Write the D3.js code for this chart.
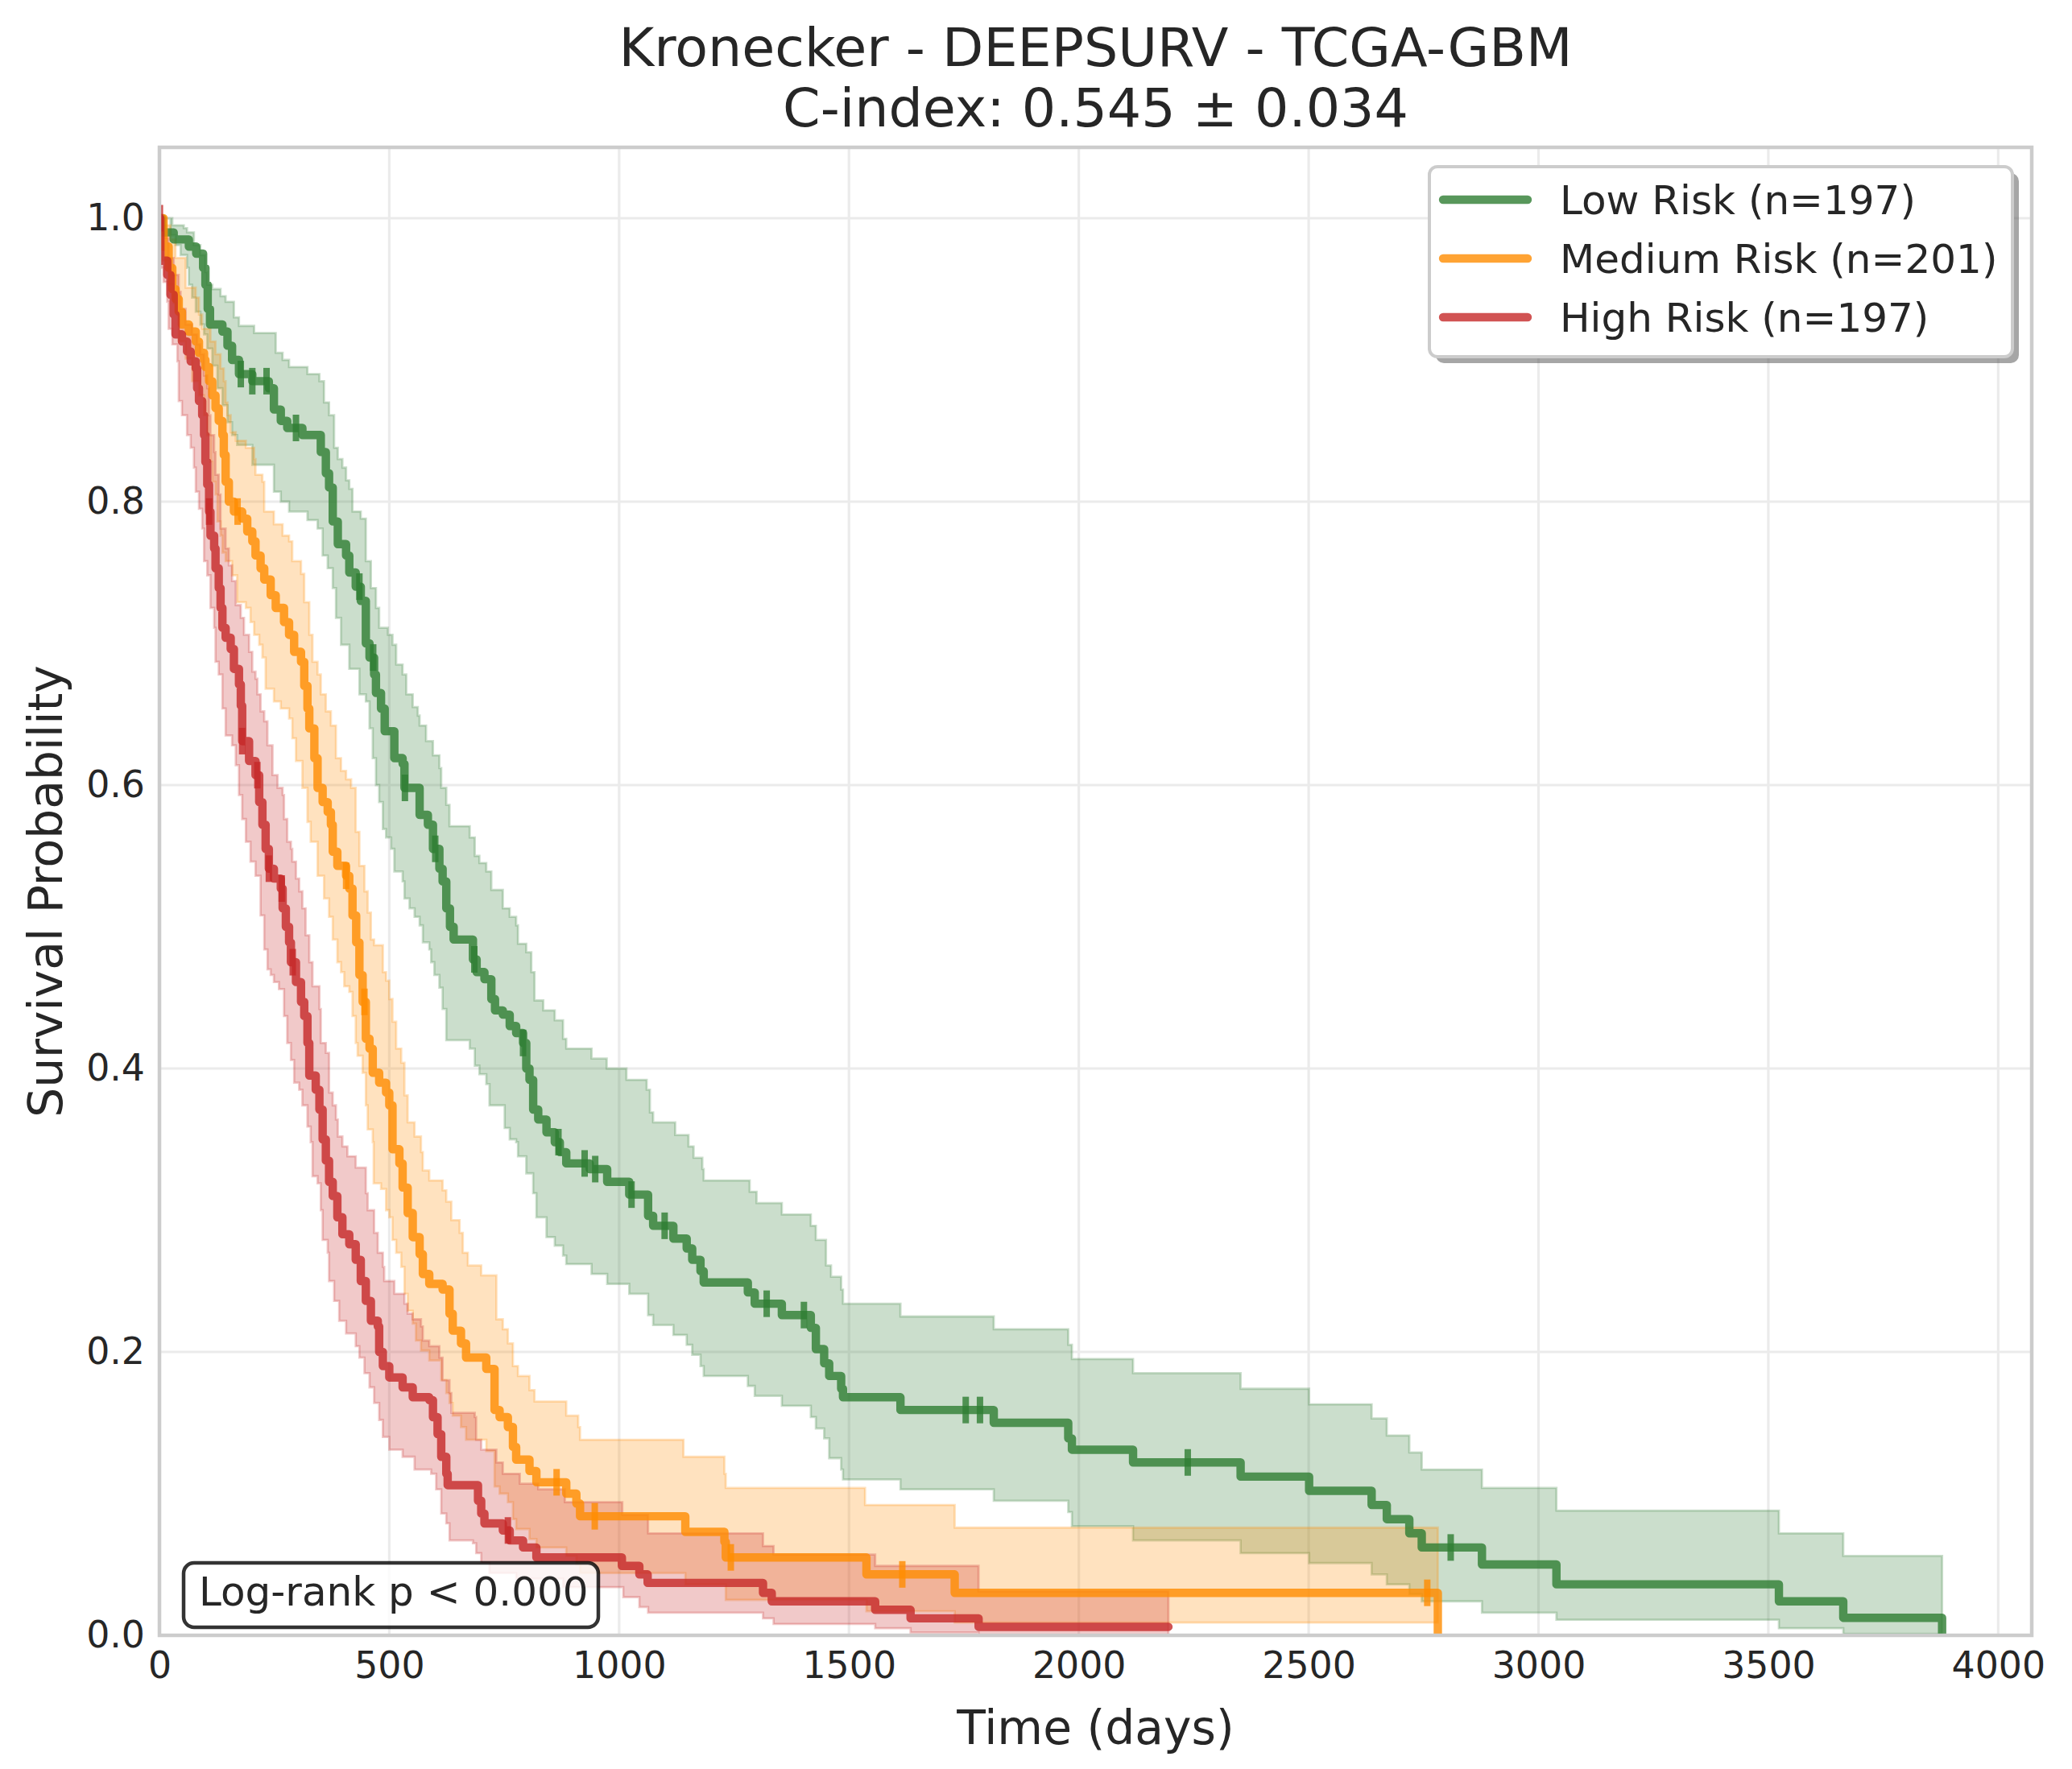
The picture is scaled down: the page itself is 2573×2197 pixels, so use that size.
<!DOCTYPE html>
<html>
<head>
<meta charset="utf-8">
<script src="https://cdn.jsdelivr.net/npm/d3@7"></script>
<style>
  body { margin: 0; background: #ffffff; }
  svg { display: block; }
  text { font-family: "DejaVu Sans", sans-serif; }
</style>
</head>
<body>
<svg id="chart" width="2573" height="2197"></svg>
<script>
// ---------------- DATA ----------------
const titleLines = ["Kronecker - DEEPSURV - TCGA-GBM", "C-index: 0.545 ± 0.034"];
const xLabel = "Time (days)";
const yLabel = "Survival Probability";
const xTicks = [0, 500, 1000, 1500, 2000, 2500, 3000, 3500, 4000];
const yTicks = [0.0, 0.2, 0.4, 0.6, 0.8, 1.0];
const groupNames = ["Low Risk", "Medium Risk", "High Risk"];
const groupCounts = [197, 201, 197];
const logRankText = "Log-rank p < 0.000";

// Low risk: Kaplan-Meier steps [day, survival]
const lowSurv = [[0,1.0],[6,0.99],[31,0.985],[64,0.98],[80,0.975],[95,0.965],[100,0.953],[105,0.936],[110,0.925],[137,0.92],[148,0.91],[158,0.90],[173,0.89],[202,0.885],[238,0.88],[249,0.865],[264,0.857],[278,0.852],[311,0.847],[351,0.835],[362,0.82],[369,0.81],[377,0.786],[388,0.77],[406,0.762],[413,0.75],[427,0.74],[438,0.73],[449,0.70],[457,0.69],[467,0.678],[471,0.665],[482,0.654],[490,0.638],[511,0.619],[529,0.615],[533,0.598],[566,0.579],[584,0.572],[595,0.555],[609,0.541],[616,0.532],[624,0.513],[632,0.50],[640,0.491],[682,0.477],[690,0.468],[707,0.463],[722,0.449],[730,0.441],[747,0.438],[762,0.43],[776,0.425],[791,0.418],[798,0.40],[805,0.392],[813,0.371],[824,0.364],[842,0.355],[860,0.348],[871,0.341],[885,0.333],[936,0.329],[974,0.32],[1022,0.311],[1063,0.296],[1074,0.289],[1118,0.28],[1147,0.273],[1159,0.265],[1177,0.257],[1184,0.249],[1280,0.242],[1295,0.234],[1354,0.226],[1417,0.217],[1428,0.202],[1446,0.192],[1457,0.183],[1483,0.174],[1487,0.168],[1612,0.159],[1815,0.15],[1977,0.139],[1985,0.131],[2118,0.122],[2352,0.112],[2501,0.102],[2637,0.092],[2670,0.082],[2719,0.072],[2746,0.062],[2877,0.05],[3039,0.036],[3523,0.024],[3663,0.0124],[3878,0]];
const lowUpper = [[0,1.0],[28,0.995],[53,0.993],[60,0.99],[75,0.981],[89,0.974],[100,0.962],[104,0.953],[115,0.95],[133,0.945],[144,0.941],[162,0.93],[173,0.924],[206,0.919],[253,0.905],[268,0.90],[282,0.895],[322,0.89],[348,0.885],[358,0.87],[369,0.861],[380,0.838],[388,0.83],[398,0.824],[406,0.815],[413,0.809],[420,0.793],[438,0.788],[449,0.758],[460,0.739],[471,0.725],[478,0.711],[497,0.706],[507,0.699],[515,0.685],[529,0.678],[537,0.664],[551,0.655],[562,0.649],[566,0.642],[580,0.631],[595,0.621],[609,0.612],[613,0.598],[624,0.586],[631,0.571],[675,0.563],[686,0.55],[696,0.545],[711,0.539],[722,0.526],[747,0.513],[762,0.507],[776,0.501],[780,0.488],[798,0.482],[809,0.468],[816,0.448],[835,0.441],[860,0.434],[878,0.421],[885,0.414],[940,0.407],[973,0.40],[1016,0.392],[1060,0.385],[1067,0.369],[1074,0.362],[1122,0.353],[1151,0.345],[1162,0.337],[1181,0.329],[1184,0.321],[1284,0.313],[1299,0.305],[1354,0.297],[1417,0.289],[1428,0.279],[1450,0.261],[1461,0.253],[1483,0.244],[1487,0.234],[1612,0.225],[1815,0.216],[1977,0.205],[1985,0.195],[2118,0.185],[2352,0.174],[2501,0.163],[2637,0.153],[2670,0.141],[2719,0.129],[2746,0.117],[2877,0.104],[3039,0.088],[3523,0.072],[3663,0.056],[3878,0.056]];
const lowLower = [[0,1.0],[24,0.988],[35,0.981],[46,0.974],[60,0.965],[64,0.953],[71,0.944],[79,0.934],[89,0.925],[97,0.918],[104,0.908],[115,0.896],[126,0.88],[137,0.868],[148,0.856],[158,0.847],[169,0.84],[202,0.826],[249,0.807],[264,0.80],[282,0.793],[322,0.787],[344,0.781],[355,0.762],[366,0.753],[377,0.739],[384,0.718],[395,0.699],[413,0.682],[435,0.664],[449,0.659],[457,0.64],[464,0.619],[471,0.60],[478,0.588],[486,0.569],[493,0.563],[504,0.555],[511,0.539],[529,0.532],[533,0.52],[544,0.513],[555,0.507],[566,0.501],[573,0.489],[587,0.484],[591,0.475],[598,0.466],[609,0.457],[616,0.442],[624,0.42],[675,0.414],[686,0.402],[696,0.396],[711,0.389],[718,0.374],[751,0.358],[762,0.35],[776,0.348],[780,0.338],[798,0.326],[813,0.312],[820,0.295],[842,0.281],[860,0.275],[878,0.268],[885,0.262],[940,0.255],[974,0.248],[1022,0.241],[1063,0.226],[1074,0.219],[1118,0.212],[1147,0.205],[1159,0.198],[1177,0.19],[1184,0.183],[1280,0.176],[1295,0.169],[1354,0.162],[1417,0.154],[1428,0.146],[1446,0.139],[1457,0.125],[1483,0.117],[1487,0.11],[1612,0.103],[1815,0.095],[1977,0.087],[1985,0.077],[2118,0.067],[2352,0.058],[2501,0.051],[2637,0.043],[2670,0.036],[2719,0.029],[2746,0.024],[2877,0.016],[3039,0.011],[3523,0.005],[3663,0.001],[3878,0.001]];
const lowCensor = [177, 202, 233, 297, 435, 465, 534, 600, 685, 791, 868, 925, 948, 1027, 1099, 1321, 1402, 1754, 1785, 2237, 2809];

// Medium risk
const medSurv = [[0,1.0],[9,0.98],[20,0.965],[28,0.95],[35,0.943],[42,0.934],[49,0.925],[64,0.92],[79,0.913],[86,0.905],[97,0.90],[100,0.895],[108,0.885],[115,0.875],[122,0.866],[129,0.857],[137,0.847],[140,0.833],[144,0.814],[151,0.80],[162,0.793],[180,0.788],[191,0.779],[202,0.772],[209,0.762],[220,0.753],[228,0.745],[242,0.734],[253,0.725],[271,0.715],[282,0.706],[293,0.694],[308,0.687],[315,0.67],[322,0.654],[326,0.64],[337,0.619],[344,0.598],[355,0.588],[366,0.581],[373,0.572],[377,0.553],[387,0.543],[406,0.536],[413,0.527],[420,0.508],[428,0.489],[435,0.466],[442,0.447],[449,0.421],[457,0.414],[464,0.397],[478,0.39],[493,0.383],[500,0.374],[507,0.343],[522,0.333],[529,0.316],[540,0.298],[551,0.281],[566,0.269],[573,0.255],[587,0.248],[616,0.244],[631,0.227],[638,0.215],[656,0.206],[667,0.196],[711,0.188],[729,0.159],[740,0.154],[758,0.147],[769,0.133],[776,0.124],[805,0.116],[820,0.108],[885,0.10],[907,0.093],[915,0.084],[1144,0.073],[1229,0.066],[1232,0.055],[1538,0.043],[1730,0.03],[2781,0]];
const medUpper = [[0,1.0],[9,0.995],[24,0.985],[35,0.972],[57,0.951],[79,0.944],[86,0.932],[93,0.922],[111,0.913],[122,0.904],[133,0.894],[140,0.885],[144,0.87],[148,0.861],[155,0.849],[166,0.843],[188,0.838],[206,0.83],[209,0.819],[224,0.814],[228,0.793],[249,0.784],[268,0.776],[282,0.772],[289,0.758],[308,0.749],[315,0.729],[326,0.706],[333,0.687],[344,0.678],[351,0.664],[362,0.652],[373,0.642],[384,0.619],[395,0.61],[406,0.604],[417,0.598],[427,0.567],[435,0.543],[446,0.525],[453,0.51],[460,0.491],[467,0.487],[486,0.468],[493,0.462],[500,0.449],[507,0.433],[515,0.414],[526,0.404],[533,0.381],[540,0.362],[555,0.352],[569,0.341],[573,0.328],[587,0.321],[616,0.314],[624,0.306],[635,0.293],[653,0.284],[660,0.27],[671,0.261],[700,0.254],[733,0.223],[747,0.216],[758,0.206],[769,0.19],[780,0.183],[805,0.173],[816,0.165],[885,0.155],[911,0.147],[915,0.138],[1140,0.126],[1229,0.114],[1232,0.104],[1535,0.092],[1730,0.076],[2781,0.076]];
const medLower = [[0,1.0],[6,0.97],[20,0.953],[31,0.94],[35,0.934],[42,0.913],[57,0.901],[71,0.885],[86,0.875],[97,0.861],[104,0.847],[111,0.828],[115,0.814],[122,0.805],[126,0.786],[133,0.776],[137,0.764],[144,0.758],[158,0.748],[169,0.729],[188,0.725],[198,0.715],[206,0.706],[217,0.699],[224,0.69],[231,0.668],[249,0.659],[264,0.654],[282,0.647],[289,0.633],[297,0.617],[311,0.598],[322,0.574],[329,0.56],[344,0.536],[358,0.52],[369,0.507],[377,0.491],[387,0.475],[395,0.468],[402,0.458],[413,0.454],[420,0.437],[427,0.418],[431,0.409],[442,0.397],[449,0.374],[453,0.357],[464,0.348],[466,0.319],[482,0.315],[493,0.30],[500,0.295],[507,0.279],[515,0.27],[526,0.26],[533,0.241],[540,0.229],[551,0.22],[558,0.208],[569,0.201],[587,0.194],[613,0.18],[624,0.171],[631,0.164],[638,0.155],[656,0.147],[667,0.138],[711,0.13],[729,0.105],[740,0.10],[758,0.094],[769,0.082],[776,0.075],[805,0.068],[820,0.062],[885,0.056],[907,0.05],[915,0.044],[1144,0.036],[1232,0.025],[1538,0.017],[1730,0.009],[2781,0.009]];
const medCensor = [170, 406, 446, 864, 947, 1243, 1616, 2758];

// High risk
const highSurv = [[0,1.0],[2,0.97],[17,0.96],[24,0.946],[31,0.932],[35,0.918],[49,0.913],[60,0.906],[68,0.899],[79,0.894],[82,0.88],[86,0.871],[93,0.861],[97,0.847],[100,0.828],[104,0.812],[108,0.793],[111,0.776],[119,0.767],[122,0.753],[129,0.739],[133,0.725],[137,0.711],[144,0.704],[155,0.696],[162,0.682],[173,0.671],[177,0.656],[180,0.631],[195,0.617],[209,0.607],[217,0.588],[224,0.572],[231,0.555],[238,0.541],[249,0.534],[264,0.527],[268,0.513],[275,0.50],[282,0.489],[286,0.475],[297,0.461],[308,0.447],[315,0.437],[322,0.418],[326,0.395],[340,0.385],[348,0.371],[355,0.35],[362,0.335],[369,0.32],[377,0.31],[387,0.295],[398,0.283],[413,0.276],[427,0.265],[438,0.25],[449,0.236],[460,0.222],[475,0.218],[478,0.20],[486,0.19],[500,0.182],[529,0.175],[551,0.168],[587,0.166],[595,0.154],[605,0.142],[613,0.126],[624,0.114],[627,0.106],[693,0.095],[700,0.086],[707,0.079],[747,0.074],[762,0.067],[791,0.062],[820,0.055],[1006,0.049],[1044,0.043],[1062,0.037],[1313,0.03],[1332,0.024],[1557,0.018],[1634,0.012],[1782,0.006],[2195,0.006]];
const highUpper = [[0,1.0],[6,0.99],[13,0.986],[20,0.972],[31,0.96],[42,0.948],[46,0.936],[57,0.925],[71,0.918],[82,0.911],[89,0.904],[97,0.889],[104,0.88],[108,0.861],[111,0.847],[119,0.835],[122,0.819],[129,0.805],[133,0.781],[144,0.767],[151,0.755],[158,0.744],[166,0.727],[177,0.718],[184,0.706],[195,0.694],[202,0.68],[209,0.675],[213,0.664],[220,0.652],[228,0.645],[235,0.628],[246,0.607],[257,0.598],[268,0.593],[271,0.576],[278,0.56],[286,0.555],[289,0.546],[297,0.534],[304,0.525],[311,0.513],[318,0.494],[326,0.475],[333,0.458],[348,0.442],[351,0.418],[362,0.411],[369,0.383],[377,0.374],[384,0.364],[388,0.352],[398,0.345],[409,0.338],[427,0.33],[449,0.312],[453,0.30],[467,0.284],[475,0.27],[486,0.26],[489,0.25],[511,0.241],[533,0.234],[540,0.227],[551,0.223],[569,0.218],[573,0.208],[587,0.204],[609,0.196],[616,0.18],[631,0.171],[635,0.157],[686,0.154],[689,0.138],[700,0.131],[733,0.122],[747,0.114],[784,0.107],[824,0.103],[882,0.094],[1007,0.085],[1063,0.072],[1313,0.063],[1336,0.057],[1557,0.049],[1782,0.031],[2195,0.031]];
const highLower = [[0,1.0],[2,0.965],[9,0.955],[17,0.941],[20,0.922],[28,0.911],[39,0.899],[42,0.871],[49,0.861],[60,0.847],[68,0.838],[75,0.824],[79,0.807],[86,0.795],[93,0.781],[97,0.758],[104,0.748],[111,0.725],[119,0.711],[122,0.687],[129,0.678],[137,0.654],[144,0.635],[158,0.628],[166,0.614],[173,0.593],[180,0.576],[188,0.56],[198,0.546],[209,0.536],[220,0.508],[228,0.484],[235,0.47],[242,0.466],[249,0.461],[260,0.456],[271,0.437],[278,0.418],[286,0.406],[293,0.39],[304,0.385],[311,0.374],[322,0.359],[329,0.348],[333,0.324],[344,0.319],[351,0.30],[355,0.279],[366,0.27],[369,0.25],[380,0.236],[391,0.222],[406,0.213],[427,0.204],[435,0.196],[446,0.185],[457,0.175],[467,0.164],[478,0.152],[486,0.14],[500,0.131],[529,0.126],[555,0.117],[591,0.114],[602,0.103],[613,0.086],[624,0.079],[631,0.067],[682,0.065],[689,0.058],[700,0.051],[718,0.044],[776,0.04],[878,0.034],[1009,0.027],[1044,0.02],[1063,0.016],[1313,0.012],[1336,0.008],[1557,0.005],[1634,0.002],[1782,0.0],[2195,0.0]];
const highCensor = [1, 108, 180, 213, 238, 266, 290, 758];

const groupColors = ["#2E7D32", "#FF8C00", "#C62828"];

// ---------------- LAYOUT ----------------
const W = 2573, H = 2197;
const P = { left: 198, right: 2523, top: 183, bottom: 2031 };
const x = d3.scaleLinear().domain([0, 4073]).range([P.left, P.right]);
const y = d3.scaleLinear().domain([0, 1.05]).range([P.bottom, P.top]);
const FONT = "DejaVu Sans, sans-serif";
const TXT = "#262626";

const svg = d3.select("#chart");
svg.append("rect").attr("width", W).attr("height", H).attr("fill", "#ffffff");

const defs = svg.append("defs");
defs.append("clipPath").attr("id", "plotclip").append("rect")
  .attr("x", P.left).attr("y", P.top)
  .attr("width", P.right - P.left).attr("height", P.bottom - P.top);

// grid
const grid = svg.append("g");
grid.selectAll("line.vx").data(xTicks).join("line")
  .attr("x1", d => x(d)).attr("x2", d => x(d))
  .attr("y1", P.top).attr("y2", P.bottom)
  .attr("stroke", "#ebebeb").attr("stroke-width", 3.2);
grid.selectAll("line.hy").data(yTicks).join("line")
  .attr("x1", P.left).attr("x2", P.right)
  .attr("y1", d => y(d)).attr("y2", d => y(d))
  .attr("stroke", "#ebebeb").attr("stroke-width", 3.2);

function stepVal(arr, t) {
  let v = arr[0][1];
  for (const p of arr) { if (p[0] <= t) v = p[1]; else break; }
  return v;
}

const groups = [
  { surv: lowSurv, upper: lowUpper, lower: lowLower, censor: lowCensor },
  { surv: medSurv, upper: medUpper, lower: medLower, censor: medCensor },
  { surv: highSurv, upper: highUpper, lower: highLower, censor: highCensor }
].map((g, i) => Object.assign(g, { name: groupNames[i], n: groupCounts[i], color: groupColors[i] }));

const plot = svg.append("g").attr("clip-path", "url(#plotclip)");

// confidence bands (all below the lines)
const area = d3.area()
  .x(d => x(d.t)).y0(d => y(d.lo)).y1(d => y(d.hi))
  .curve(d3.curveStepAfter);
groups.forEach(g => {
  const endT = g.surv[g.surv.length - 1][0];
  const times = Array.from(new Set(g.upper.map(p => p[0]).concat(g.lower.map(p => p[0]), [endT])))
    .filter(t => t <= endT).sort((a, b) => a - b);
  const data = times.map(t => ({ t, lo: stepVal(g.lower, t), hi: stepVal(g.upper, t) }));
  plot.append("path").datum(data).attr("d", area)
    .attr("fill", g.color).attr("fill-opacity", 0.25)
    .attr("stroke", g.color).attr("stroke-opacity", 0.25).attr("stroke-width", 2.8)
    .attr("stroke-linejoin", "miter");
});

// survival step lines + censor ticks
const line = d3.line().x(d => x(d[0])).y(d => y(d[1])).curve(d3.curveStepAfter);
groups.forEach(g => {
  plot.append("path").datum(g.surv).attr("d", line)
    .attr("fill", "none").attr("stroke", g.color).attr("stroke-opacity", 0.8)
    .attr("stroke-width", 10.4).attr("stroke-linejoin", "round").attr("stroke-linecap", "round");
  plot.selectAll(null).data(g.censor).join("line")
    .attr("x1", d => x(d)).attr("x2", d => x(d))
    .attr("y1", d => y(stepVal(g.surv, d)) - 16.5)
    .attr("y2", d => y(stepVal(g.surv, d)) + 16.5)
    .attr("stroke", g.color).attr("stroke-opacity", 0.8).attr("stroke-width", 8);
});

// spines
svg.append("rect").attr("x", P.left).attr("y", P.top)
  .attr("width", P.right - P.left).attr("height", P.bottom - P.top)
  .attr("fill", "none").attr("stroke", "#cccccc").attr("stroke-width", 4.5);

// axes
const xAxis = svg.append("g").attr("transform", `translate(0,${P.bottom})`)
  .call(d3.axisBottom(x).tickValues(xTicks).tickSize(0).tickPadding(20).tickFormat(d3.format("d")));
xAxis.select(".domain").remove();
xAxis.attr("font-size", 45.8).attr("font-family", FONT).attr("color", TXT);

const yAxis = svg.append("g").attr("transform", `translate(${P.left},0)`)
  .call(d3.axisLeft(y).tickValues(yTicks).tickSize(0).tickPadding(18).tickFormat(d3.format(".1f")));
yAxis.select(".domain").remove();
yAxis.attr("font-size", 45.8).attr("font-family", FONT).attr("color", TXT);

// axis labels
svg.append("text").attr("x", (P.left + P.right) / 2).attr("y", 2166)
  .attr("text-anchor", "middle").attr("font-size", 58.3).attr("fill", TXT).text(xLabel);
svg.append("text").attr("transform", `translate(77,${(P.top + P.bottom) / 2}) rotate(-90)`)
  .attr("text-anchor", "middle").attr("font-size", 58.3).attr("fill", TXT).text(yLabel);

// title
svg.selectAll("text.title").data(titleLines).join("text")
  .attr("class", "title")
  .attr("x", (P.left + P.right) / 2).attr("y", (d, i) => 82 + i * 75)
  .attr("text-anchor", "middle").attr("font-size", 66.7).attr("fill", TXT).text(d => d);

// legend
const L = { x: 1775, y: 207, w: 724, h: 236 };
svg.append("rect").attr("x", L.x + 8).attr("y", L.y + 8).attr("width", L.w).attr("height", L.h)
  .attr("rx", 10).attr("fill", "#4d4d4d").attr("fill-opacity", 0.5);
svg.append("rect").attr("x", L.x).attr("y", L.y).attr("width", L.w).attr("height", L.h)
  .attr("rx", 10).attr("fill", "#ffffff").attr("stroke", "#cccccc").attr("stroke-width", 4);
groups.forEach((g, i) => {
  const ly = 248 + i * 73;
  svg.append("line").attr("x1", 1792).attr("x2", 1897).attr("y1", ly).attr("y2", ly)
    .attr("stroke", g.color).attr("stroke-opacity", 0.8).attr("stroke-width", 10.4)
    .attr("stroke-linecap", "round");
  svg.append("text").attr("x", 1937).attr("y", ly + 18).attr("font-size", 50)
    .attr("fill", TXT).text(`${g.name} (n=${g.n})`);
});

// log-rank box
svg.append("rect").attr("x", 228).attr("y", 1941).attr("width", 515).attr("height", 80)
  .attr("rx", 13).attr("fill", "#ffffff").attr("fill-opacity", 0.8)
  .attr("stroke", "#000000").attr("stroke-opacity", 0.8).attr("stroke-width", 4.5);
svg.append("text").attr("x", 247).attr("y", 1994).attr("font-size", 50)
  .attr("fill", TXT).text(logRankText);
</script>
</body>
</html>
